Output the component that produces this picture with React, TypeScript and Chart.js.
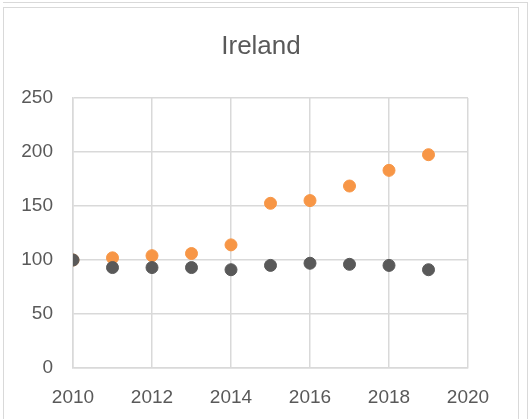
import React, { useEffect, useRef } from "react";
import { Chart, registerables } from "chart.js";

Chart.register(...registerables);

const years = [2010, 2011, 2012, 2013, 2014, 2015, 2016, 2017, 2018, 2019];
const greySeries = [100, 93, 93, 93, 91, 95, 97, 96, 95, 91];
const orangeSeries = [100, 102, 104, 106, 114, 152.5, 155, 168.5, 183, 197.5];
const titleText = "Ireland";

const FONT = "'Liberation Sans', Arial, sans-serif";
const TEXT = "#595959";
const GRID = "#d9d9d9";

const centeredTitle = {
  id: "centeredTitle",
  afterDraw(chart: any) {
    const ctx = chart.ctx;
    ctx.save();
    ctx.font = `normal 26px ${FONT}`;
    ctx.fillStyle = TEXT;
    ctx.textAlign = "center";
    ctx.textBaseline = "middle";
    ctx.fillText(titleText, 261, 47);
    ctx.restore();
  },
};

export default function App() {
  const ref = useRef<HTMLCanvasElement | null>(null);

  useEffect(() => {
    if (!ref.current) return;
    const chart = new Chart(ref.current, {
      type: "scatter",
      data: {
        datasets: [
          {
            label: "grey",
            data: years.map((x, i) => ({ x, y: greySeries[i] })),
            backgroundColor: "#595959",
            borderColor: "#595959",
            pointRadius: 6,
            borderWidth: 1,
          },
          {
            label: "orange",
            data: years.map((x, i) => ({ x, y: orangeSeries[i] })),
            backgroundColor: "#F79646",
            borderColor: "#F79646",
            pointRadius: 6,
            borderWidth: 1,
          },
        ],
      },
      options: {
        responsive: false,
        animation: false,
        layout: { padding: { top: 98, left: 0, right: 63, bottom: 0 } },
        plugins: {
          legend: { display: false },
          tooltip: { enabled: false },
          title: { display: false },
        },
        scales: {
          x: {
            type: "linear",
            min: 2010,
            max: 2020,
            ticks: {
              stepSize: 2,
              color: TEXT,
              font: { family: FONT, size: 19 },
              padding: 18,
              maxRotation: 0,
              callback: (v: any) => String(v),
            },
            grid: { color: GRID, lineWidth: 1.5, drawTicks: false },
            border: { color: GRID, width: 1.5 },
            afterFit: (s: any) => {
              s.height = 51;
            },
          },
          y: {
            min: 0,
            max: 250,
            ticks: {
              stepSize: 50,
              color: TEXT,
              font: { family: FONT, size: 19 },
              padding: 20,
            },
            grid: { color: GRID, lineWidth: 1.5, drawTicks: false },
            border: { color: GRID, width: 1.5 },
            afterFit: (s: any) => {
              s.width = 73;
            },
          },
        },
      },
      plugins: [centeredTitle],
    });
    return () => chart.destroy();
  }, []);

  return (
    <div style={{ position: "absolute", left: 0, top: 0, width: 531, height: 419, background: "#fff", overflow: "hidden" }}>
      <div style={{ position: "absolute", left: 3, top: 2, width: 525, height: 0, borderTop: "1.5px solid #d9d9d9" }} />
      <div style={{ position: "absolute", left: 527, top: 2, width: 0, height: 417, borderLeft: "1.5px solid #d9d9d9" }} />
      <div style={{ position: "absolute", left: 3, top: 7, width: 514, height: 420, border: "1.5px solid #d9d9d9" }} />
      <canvas ref={ref} width={531} height={419} style={{ position: "absolute", left: 0, top: 0 }} />
    </div>
  );
}
